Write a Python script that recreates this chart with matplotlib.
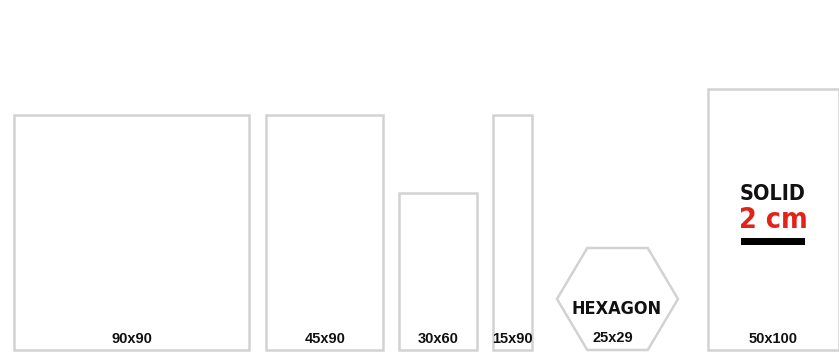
import matplotlib
matplotlib.use("Agg")
import matplotlib.pyplot as plt
from matplotlib.patches import Rectangle, Polygon
from matplotlib import font_manager as fm

# Data: tile formats (cm)
labels = ["90x90", "45x90", "30x60", "15x90", "25x29", "50x100"]
widths = [90, 45, 30, 15, None, 50]
heights = [90, 90, 60, 90, None, 100]
hex_label = "HEXAGON"
solid_title = "SOLID"
solid_value = "2 cm"

# Layout (pixels)
W, H = 839, 352
S = 2.61  # pixels per cm
lefts_px = [14, 266, 399, 493, None, 708]
hex_center_px = 617.5
hex_half_w = 60.5
hex_h = 102
floor_px = 350

cond = fm.FontProperties(family="DejaVu Sans", stretch="condensed", weight="bold")

fig = plt.figure(figsize=(W / 100, H / 100), dpi=100)
ax = fig.add_axes([0, 0, 1, 1])
ax.set_xlim(0, W)
ax.set_ylim(H, 0)
ax.axis("off")

grey = "#d2d2d2"
lw = 1.8

for lab, w, h, x0 in zip(labels, widths, heights, lefts_px):
    if w is None:
        continue
    wp, hp = w * S, h * S
    ax.add_patch(Rectangle((x0, floor_px - hp), wp, hp, fill=False,
                           edgecolor=grey, linewidth=lw))
    ax.text(x0 + wp / 2, 339, lab, ha="center", va="center",
            fontsize=10.5, fontweight="bold", color="#111111",
            family="Liberation Sans")

# Hexagon (flat top)
cx, top = hex_center_px, floor_px - hex_h
mid = floor_px - hex_h / 2
q = hex_half_w / 2
verts = [(cx - hex_half_w, mid), (cx - q, top), (cx + q, top),
         (cx + hex_half_w, mid), (cx + q, floor_px), (cx - q, floor_px)]
ax.add_patch(Polygon(verts, closed=True, fill=False, edgecolor=grey,
                     linewidth=lw, joinstyle="miter"))
p = cond.copy(); p.set_size(13)
ax.text(cx - 0.5, 309, hex_label, ha="center", va="center",
        fontproperties=p, color="#111111")
ax.text(613, 338, labels[4], ha="center", va="center",
        fontsize=10.5, fontweight="bold", color="#111111",
        family="Liberation Sans")

# SOLID 2 cm
p2 = cond.copy(); p2.set_size(15.5)
ax.text(773, 193.5, solid_title, ha="center", va="center",
        fontproperties=p2, color="#111111")
p3 = cond.copy(); p3.set_size(20.5)
ax.text(773, 220, solid_value, ha="center", va="center",
        fontproperties=p3, color="#e2231a")
ax.add_patch(Rectangle((741, 238), 64, 7, facecolor="black", edgecolor="none"))

fig.savefig("out.png", dpi=100, facecolor="white")
